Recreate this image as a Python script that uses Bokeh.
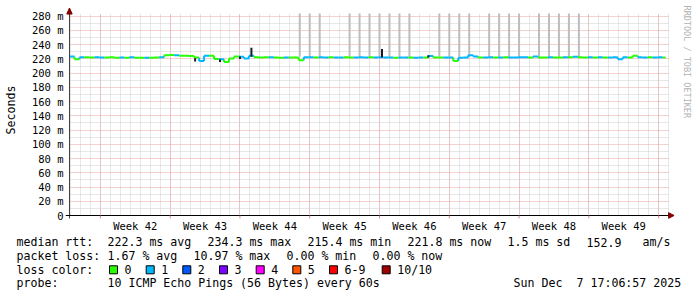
import math
from bokeh.plotting import figure
from bokeh.models import FixedTicker, Range1d
from bokeh.layouts import column, row
from bokeh.core.properties import value
from bokeh.embed import file_html
from bokeh.resources import INLINE

# ---------------- data ----------------
# time axis in days from left edge of graph; sample every half day
days = [i * 0.5 for i in range(120)]
median_ms = [
    223.5, 219.5, 222.5, 222.5, 222.0, 222.5, 222.0, 222.0, 222.5, 221.5,
    222.0, 221.5, 222.5, 221.5, 221.5, 221.5, 221.5, 222.0, 222.5, 225.0,
    225.5, 225.0, 224.5, 224.5, 224.0, 222.0, 217.0, 224.5, 224.5, 220.0,
    219.5, 215.5, 220.5, 223.5, 223.0, 220.5, 224.5, 222.5, 222.0, 222.5,
    222.5, 222.0, 221.5, 222.0, 222.0, 222.0, 218.0, 222.5, 222.5, 222.0,
    222.5, 222.0, 222.5, 222.0, 222.0, 222.5, 222.0, 222.0, 222.5, 222.0,
    222.5, 222.0, 222.5, 222.0, 222.0, 221.5, 222.0, 222.0, 222.0, 221.5,
    222.0, 222.0, 224.0, 222.0, 222.0, 222.0, 222.0, 217.0, 221.5, 222.0,
    225.0, 223.5, 222.0, 222.0, 222.5, 222.0, 222.0, 222.5, 222.0, 222.0,
    222.5, 222.5, 222.0, 223.5, 222.0, 222.0, 222.5, 222.0, 222.0, 222.5,
    222.5, 223.0, 222.5, 222.0, 222.5, 222.0, 222.5, 222.0, 222.0, 222.5,
    219.5, 222.5, 222.0, 224.5, 222.5, 222.0, 222.5, 222.0, 222.5, 222.0,
]
loss = [
    1, 0, 1, 0, 0, 1, 1, 0, 0, 0,
    1, 0, 1, 0, 0, 1, 0, 0, 1, 0,
    0, 1, 0, 0, 0, 0, 1, 1, 0, 0,
    1, 0, 0, 0, 1, 1, 1, 0, 0, 0,
    1, 0, 0, 1, 0, 0, 0, 1, 1, 0,
    1, 1, 0, 1, 1, 0, 0, 1, 1, 1,
    0, 1, 1, 1, 1, 0, 1, 1, 0, 1,
    1, 0, 1, 0, 0, 1, 1, 0, 1, 1,
    1, 1, 0, 1, 1, 0, 1, 0, 1, 1,
    1, 1, 0, 1, 0, 0, 1, 0, 0, 1,
    0, 1, 0, 0, 1, 0, 1, 0, 1, 1,
    1, 1, 0, 0, 1, 1, 0, 1, 1, 0,
]
loss_colors = ["#26ff00", "#00b8ff", "#0059ff", "#7e00ff", "#ff00ff",
               "#ff5500", "#ff0000", "#a10000"]
loss_labels = ["0", "1", "2", "3", "4", "5", "6-9", "10/10"]

# dark spikes of the smoke
spike_days = [18.25, 31.35, 12.6, 15.1, 17.1, 36.0]
spike_low = [223.0, 222.0, 216.5, 215.5, 220.0, 222.0]
spike_high = [235.5, 234.0, 221.0, 219.0, 223.5, 225.0]

# tall grey smoke columns (ping spread beyond the top of the scale)
smoke_days = [23.1, 24.1, 25.1, 28.1, 29.1, 30.1, 31.1, 32.1, 33.1, 34.1,
              37.1, 38.1, 39.1, 40.1, 42.1, 43.1, 44.1, 45.1, 47.1, 48.1,
              49.1, 50.1, 51.1]
smoke_low = [223.0] * len(smoke_days)

T_END = 60.2      # right edge of the graph area (days)
Y_TOP = 283.8     # top edge of the graph area (ms)

week_starts = [3.1, 10.1, 17.1, 24.1, 31.1, 38.1, 45.1, 52.1, 59.1]
week_mids = [6.6, 13.6, 20.6, 27.6, 34.6, 41.6, 48.6, 55.6]
week_labels = ["Week 42", "Week 43", "Week 44", "Week 45", "Week 46",
               "Week 47", "Week 48", "Week 49"]
day_lines = [k + 0.1 for k in range(61)]
y_major = list(range(0, 281, 20))
y_minor = list(range(10, 281, 20))
y_labels = {v: ("0" if v == 0 else f"{v} m") for v in y_major}

# legend rows: (x pixel, text)
row_median = [(16, "median rtt:"), (107, "222.3 ms avg"), (207, "234.3 ms max"),
              (307, "215.4 ms min"), (407, "221.8 ms now"), (507, "1.5 ms sd"),
              (586, "152.9"), (642, "am/s")]
row_loss = [(16, "packet loss:"), (107, "1.67 % avg"), (193, "10.97 % max"),
            (286, "0.00 % min"), (372, "0.00 % now")]
row_color = [(16, "loss color:")]
row_probe = [(16, "probe:"), (107, "10 ICMP Echo Pings (56 Bytes) every 60s"),
             (513, "Sun Dec"), (576, "7 17:06:57 2025")]
watermark = "RRDTOOL / TOBI OETIKER"

MONO = "DejaVu Sans Mono"
AXIS_RED = "#800000"
PX_PER_MS = 0.71179

# ---------------- main chart ----------------
# frame spans canvas x 63..697 and y 0..219 (10 px per day); data origin at (67, 215)
p = figure(width=697, height=236,
           x_range=Range1d(-0.4, 63.0),
           y_range=Range1d(-4.0 / PX_PER_MS, 215.0 / PX_PER_MS),
           output_backend="svg", toolbar_location=None,
           min_border_left=63, min_border_right=0, min_border_top=0, min_border_bottom=17,
           background_fill_color="white", border_fill_color="white",
           outline_line_color=None)

p.xgrid.ticker = FixedTicker(ticks=week_starts, minor_ticks=day_lines)
p.ygrid.ticker = FixedTicker(ticks=y_major[1:], minor_ticks=y_minor)
for g, cb in ((p.xgrid[0], (0, Y_TOP)), (p.ygrid[0], (0, T_END))):
    g.grid_line_color = "#e6a3a3"
    g.grid_line_dash = "1 1"
    g.minor_grid_line_color = "#cfcfcf"
    g.minor_grid_line_dash = "1 1"
    g.cross_bounds = cb

xa = p.xaxis[0]
xa.ticker = FixedTicker(ticks=week_mids)
xa.major_label_overrides = {m: l for m, l in zip(week_mids, week_labels)}
xa.major_tick_out = 0
xa.major_tick_in = 0
xa.minor_tick_out = 0
xa.minor_tick_in = 0
xa.major_label_standoff = 0
xa.major_label_text_font = MONO
xa.major_label_text_font_size = "10.5px"
xa.major_label_text_color = "black"
xa.axis_line_color = None

ya = p.yaxis[0]
ya.ticker = FixedTicker(ticks=y_major)
ya.major_label_overrides = y_labels
ya.major_tick_out = 0
ya.major_tick_in = 0
ya.minor_tick_out = 0
ya.minor_tick_in = 0
ya.major_label_standoff = 2
ya.major_label_text_font = MONO
ya.major_label_text_font_size = "10.5px"
ya.major_label_text_color = "black"
ya.axis_line_color = None
ya.axis_label = "Seconds"
ya.axis_label_text_font = MONO
ya.axis_label_text_font_size = "11.6px"
ya.axis_label_text_font_style = "normal"
ya.axis_label_text_color = "black"
ya.axis_label_standoff = 11

# smoke columns (clipped at top of graph area)
p.vbar(x=smoke_days, width=0.2, bottom=smoke_low, top=Y_TOP,
       fill_color="#bdbdbd", line_color=None)

# median line coloured by loss (stepped)
hx0, hx1, hy, hc = [], [], [], []
vx, vy0, vy1, vc = [], [], [], []
for i in range(len(days)):
    x_next = days[i + 1] if i + 1 < len(days) else 59.8
    hx0.append(days[i]); hx1.append(x_next); hy.append(median_ms[i])
    hc.append(loss_colors[loss[i]])
    if i + 1 < len(days):
        vx.append(days[i + 1]); vy0.append(median_ms[i]); vy1.append(median_ms[i + 1])
        vc.append(loss_colors[loss[i + 1]])
p.segment(x0=vx, y0=vy0, x1=vx, y1=vy1, line_color=vc, line_width=2)
p.segment(x0=hx0, y0=hy, x1=hx1, y1=hy, line_color=hc, line_width=2)

p.segment(x0=spike_days, y0=spike_low, x1=spike_days, y1=spike_high,
          line_color="#1a1a2a", line_width=2)

# axis lines (at the data origin), week ticks and arrow heads
p.segment(x0=[0], y0=[-4.2], x1=[0], y1=[290.0], line_color="#404040", line_width=1)
p.segment(x0=[-0.4], y0=[0], x1=[60.3], y1=[0], line_color="black", line_width=1)
p.segment(x0=week_starts, y0=[0] * len(week_starts), x1=week_starts,
          y1=[-4.0] * len(week_starts), line_color="#e08080", line_width=1)
p.patch(x=[-0.27, 0.0, 0.27], y=[283.0, 291.5, 283.0], fill_color=AXIS_RED, line_color=AXIS_RED)
p.patch(x=[60.1, 60.65, 60.1], y=[-4.0, 0.0, 4.0], fill_color=AXIS_RED, line_color=AXIS_RED)

# watermark
p.text(x=[61.9], y=[295.0], text=[watermark], angle=-math.pi / 2,
       text_font=value(MONO), text_font_size=value("8.5px"), text_color="#b3b3b3",
       text_baseline="middle", text_align="left")

# ---------------- bottom legend (canvas pixel coordinates) ----------------
leg = figure(width=697, height=61, x_range=Range1d(0, 697), y_range=Range1d(297, 236),
             output_backend="svg", toolbar_location=None,
             x_axis_location=None, y_axis_location=None, min_border=0,
             background_fill_color="white", border_fill_color="white",
             outline_line_color=None)
leg.grid.visible = False

tx, ty, tt = [], [], []
for items, yy in ((row_median, 241.7), (row_loss, 255.0), (row_color, 269.3), (row_probe, 282.7)):
    for xx, t in items:
        tx.append(xx); ty.append(yy); tt.append(t)
leg.text(x=tx, y=ty, text=tt, text_font=value(MONO), text_font_size=value("11.6px"),
         text_color="black", text_baseline="middle", text_align="left")

box_left = [109, 145.7, 182.3, 219, 255.7, 292.3, 329, 381.7]
leg.quad(left=box_left, right=[b + 8 for b in box_left],
         top=[265.3] * len(box_left), bottom=[273.3] * len(box_left),
         fill_color=loss_colors, line_color="black", line_width=1)
leg.text(x=[b + 15 for b in box_left], y=[269.3] * len(box_left), text=loss_labels,
         text_font=value(MONO), text_font_size=value("11.6px"), text_color="black",
         text_baseline="middle", text_align="left")

layout = column(row(p), row(leg))
open("out.html", "w").write(file_html(layout, INLINE))
